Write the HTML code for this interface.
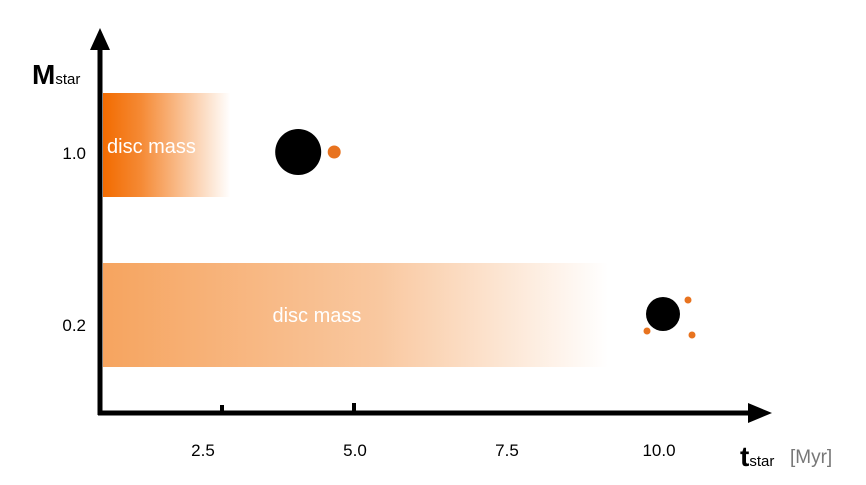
<!DOCTYPE html>
<html><head><meta charset="utf-8"><style>
body{margin:0;background:#fff}
svg{display:block;font-family:"Liberation Sans",sans-serif}
</style></head><body>
<svg id="chart" width="866" height="485" viewBox="0 0 866 485">
<defs>
<linearGradient id="g1" x1="0" x2="1" y1="0" y2="0"><stop offset="0" stop-color="#f26b00"/><stop offset="0.3" stop-color="#f58a35"/><stop offset="1" stop-color="#fff"/></linearGradient>
<linearGradient id="g2" x1="0" x2="1" y1="0" y2="0"><stop offset="0" stop-color="#f6a45f"/><stop offset="0.55" stop-color="#f9c8a0"/><stop offset="1" stop-color="#fff"/></linearGradient>
</defs>
<g id="marks"></g>
<line x1="100" y1="415" x2="100" y2="45" stroke="#000" stroke-width="5"/>
<polygon points="100,28 90,50 110,50" fill="#000"/>
<line x1="98" y1="413" x2="752" y2="413" stroke="#000" stroke-width="5"/>
<polygon points="772,413 748,403 748,423" fill="#000"/>
<line x1="222" y1="405" x2="222" y2="413" stroke="#000" stroke-width="4"/>
<line x1="354" y1="403" x2="354" y2="413" stroke="#000" stroke-width="4"/>
<text x="32" y="84" font-size="28" font-weight="bold">M<tspan font-size="15" font-weight="normal">star</tspan></text>
<text x="740" y="466" font-size="28" font-weight="bold">t<tspan font-size="15" font-weight="normal">star</tspan></text>
<text x="790" y="463" font-size="19" fill="#777">[Myr]</text>
</svg>
<script>
const xTicks=[2.5,5.0,7.5,10.0];
const xTickLabels=["2.5","5.0","7.5","10.0"];
const yCats=[1.0,0.2];
const yLabels=["1.0","0.2"];
const discEnd=[2.95,9.16];
const starX=[4.0,10.0];
const x=t=>51+60.8*t;
const yPos=[152,324];
const y=m=>yPos[yCats.indexOf(m)];
const ns="http://www.w3.org/2000/svg";
const g=document.getElementById('marks');
function mk(tag,attrs){const e=document.createElementNS(ns,tag);for(const k in attrs)e.setAttribute(k,attrs[k]);g.appendChild(e);return e;}
yCats.forEach((m,i)=>{
  const r=mk('rect',{x:103,y:y(m)-(i?61:59),width:x(discEnd[i])-103,height:104,fill:i?'url(#g2)':'url(#g1)'});
  
  
  const t=mk('text',{x:i?(103+x(discEnd[i]))/2-83:107,y:y(m)+(i?-2:1),'font-size':20,fill:'#fff'});
  t.textContent='disc mass';
  
  
  const l=mk('text',{x:86,y:y(m)+7,'font-size':17,'text-anchor':'end'});
  l.textContent=yLabels[i];
  
  
});
xTicks.forEach((v,i)=>{
  const t=mk('text',{x:x(v),y:456,'font-size':17,'text-anchor':'middle'});
  t.textContent=xTickLabels[i];
  
  
});
let cx=x(starX[0])+4,cy=y(1.0);
let s=mk('circle',{cx:cx,cy:cy,r:23,fill:'#000'});


let p=mk('circle',{cx:cx+36,cy:cy,r:6.5,fill:'#e8731f'});


cx=x(starX[1])+4;cy=y(0.2)-10;
s=mk('circle',{cx:cx,cy:cy,r:17,fill:'#000'});


[[25,-14],[-16,17],[29,21]].forEach(d=>{
  const q=mk('circle',{cx:cx+d[0],cy:cy+d[1],r:3.5,fill:'#e8731f'});
  
  
});
</script>
</body></html>
